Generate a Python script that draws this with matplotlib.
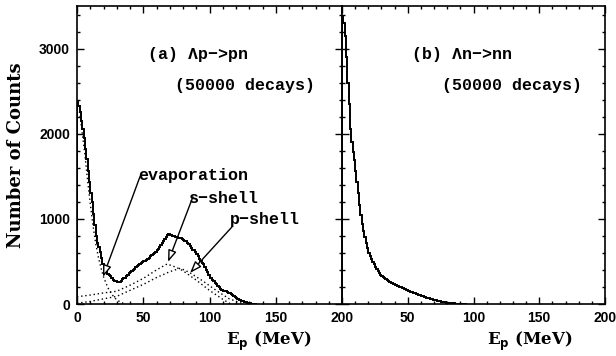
import matplotlib
matplotlib.use("Agg")
import matplotlib.pyplot as plt
import numpy as np
from matplotlib.ticker import MultipleLocator

# ---------------- data ----------------
bin_width = 1  # MeV
# (a) Lambda p -> p n : total spectrum (1 MeV bins starting at 0)
total_a = [2380, 2330, 2250, 2150, 2050, 1950, 1820, 1700, 1560, 1430,
           1300, 1200, 1060, 930, 800, 720, 670, 610, 540, 470,
           420, 390, 370, 350, 340, 330, 300, 285, 270, 265,
           262, 258, 262, 275, 290, 300, 310, 325, 340, 360,
           375, 385, 400, 415, 430, 445, 460, 470, 480, 490,
           500, 505, 515, 530, 545, 560, 575, 590, 600, 615,
           630, 645, 665, 690, 715, 740, 765, 790, 810, 820,
           815, 805, 800, 795, 790, 785, 780, 775, 770, 765,
           755, 745, 735, 720, 700, 680, 660, 640, 630, 615,
           590, 560, 530, 500, 480, 470, 440, 400, 370, 340,
           310, 300, 285, 270, 250, 230, 210, 195, 180, 168,
           158, 155, 150, 145, 135, 125, 112, 100, 90, 80,
           70, 60, 50, 47, 38, 30, 24, 18, 13, 10,
           7, 5, 3, 2, 1, 0]
# dotted components
evap_x = [0, 2, 4, 6, 8, 10, 12, 14, 16, 18, 20, 22, 24, 26, 28, 30, 32, 34, 36]
evap_y = [2300, 2250, 2000, 1750, 1450, 1180, 930, 720, 560, 430, 320, 240, 170, 120, 80, 50, 30, 15, 0]
s_x = [0, 10, 20, 30, 40, 50, 60, 68, 75, 80, 90, 100, 110, 116]
s_y = [85, 105, 130, 150, 220, 300, 400, 470, 430, 390, 280, 160, 55, 0]
p_x = [0, 10, 20, 30, 40, 50, 60, 70, 78, 85, 95, 105, 115, 126]
p_y = [10, 30, 60, 90, 160, 230, 310, 380, 420, 370, 270, 160, 60, 0]

# (b) Lambda n -> n n : total spectrum (1 MeV bins starting at 0)
total_b = [3380, 3300, 3150, 2900, 2600, 2350, 2050, 1900, 1780, 1690,
           1560, 1430, 1300, 1160, 1040, 940, 860, 790, 720, 660,
           600, 565, 530, 495, 465, 435, 410, 388, 365, 345,
           330, 316, 305, 292, 282, 270, 262, 252, 245, 236,
           228, 220, 214, 205, 200, 196, 188, 182, 172, 166,
           158, 150, 145, 138, 132, 126, 120, 114, 108, 102,
           96, 90, 85, 80, 75, 70, 65, 60, 55, 50,
           46, 42, 38, 35, 32, 28, 25, 22, 19, 16,
           13, 11, 9, 8, 7, 6, 5, 4, 3, 3,
           2, 2, 1, 1, 0]

xticks_a = [0, 50, 100, 150, 200]
xticklabels_a = ["0", "50", "100", "150", "200"]
xticks_b = [0, 50, 100, 150, 200]
xticklabels_b = ["", "50", "100", "150", "200"]
yticks = [0, 1000, 2000, 3000]
yticklabels = ["0", "1000", "2000", "3000"]

# ---------------- figure ----------------
W, H = 616, 356
fig = plt.figure(figsize=(W / 100, H / 100), dpi=100)
bottom = (H - 304) / H
height = 298 / H
axA = fig.add_axes([77 / W, bottom, 265 / W, height])
axB = fig.add_axes([342 / W, bottom, 263 / W, height])

tick_font = dict(family="Liberation Sans", weight="bold", size=10)
mono = "Liberation Mono"

def style(ax):
    ax.set_xlim(0, 200)
    ax.set_ylim(0, 3500)
    ax.xaxis.set_major_locator(MultipleLocator(50))
    ax.xaxis.set_minor_locator(MultipleLocator(10))
    ax.yaxis.set_major_locator(MultipleLocator(1000))
    ax.yaxis.set_minor_locator(MultipleLocator(200))
    ax.tick_params(which="both", direction="in", top=True, right=True, width=1.0)
    ax.tick_params(which="major", length=5)
    ax.tick_params(which="minor", length=2.5)
    for s in ax.spines.values():
        s.set_linewidth(1.2)

for ax in (axA, axB):
    style(ax)

edges_a = np.arange(len(total_a) + 1) * bin_width
axA.stairs(total_a, edges_a, color="black", lw=1.4)
axA.plot(evap_x, evap_y, color="black", ls=(0, (1, 2)), lw=1.0)
axA.plot(s_x, s_y, color="black", ls=(0, (1, 2)), lw=1.0)
axA.plot(p_x, p_y, color="black", ls=(0, (1, 2)), lw=1.0)

edges_b = np.arange(len(total_b) + 1) * bin_width
axB.stairs(total_b, edges_b, color="black", lw=1.4)

axA.set_xticks(xticks_a)
axA.set_xticklabels(xticklabels_a, fontdict=tick_font)
axA.set_yticks(yticks)
axA.set_yticklabels(yticklabels, fontdict=tick_font)
axB.set_xticks(xticks_b)
axB.set_xticklabels(xticklabels_b, fontdict=tick_font)
axB.set_yticks(yticks)
axB.set_yticklabels([])
for ax in (axA, axB):
    ax.tick_params(axis="both", which="major", pad=5)

axA.set_ylabel("Number of Counts", family="DejaVu Serif", weight="bold", size=13)
axA.yaxis.set_label_coords(-0.195, 0.5)

xl = r"E$_\mathbf{p}$ (MeV)"
axA.set_xlabel(xl, family="DejaVu Serif", weight="bold", size=12)
axA.xaxis.set_label_coords(0.725, -0.085)
axB.set_xlabel(xl, family="DejaVu Serif", weight="bold", size=12)
axB.xaxis.set_label_coords(0.715, -0.085)

txt = dict(family=mono, size=12, weight="bold", color="black")
axA.text(0.268, 0.822, "(a) Λp−>pn", transform=axA.transAxes, **txt)
axA.text(0.37, 0.718, "(50000 decays)", transform=axA.transAxes, **txt)
axB.text(0.266, 0.822, "(b) Λn−>nn", transform=axB.transAxes, **txt)
axB.text(0.38, 0.718, "(50000 decays)", transform=axB.transAxes, **txt)

arrow = dict(arrowstyle="-|>,head_length=0.7,head_width=0.25", fc="white",
             ec="black", lw=1.0, shrinkA=0, shrinkB=0)
axA.annotate("", xy=(19.6, 318), xytext=(47.5, 1494), arrowprops=arrow)
axA.annotate("", xy=(68.7, 494), xytext=(87.5, 1259), arrowprops=arrow)
axA.annotate("", xy=(85.3, 365), xytext=(117, 906), arrowprops=arrow)
axA.text(87.6, 1459, "evaporation", ha="center", va="baseline", **txt)
axA.text(111, 1188, "s−shell", ha="center", va="baseline", **txt)
axA.text(142, 941, "p−shell", ha="center", va="baseline", **txt)

fig.savefig("out.png", dpi=100)
